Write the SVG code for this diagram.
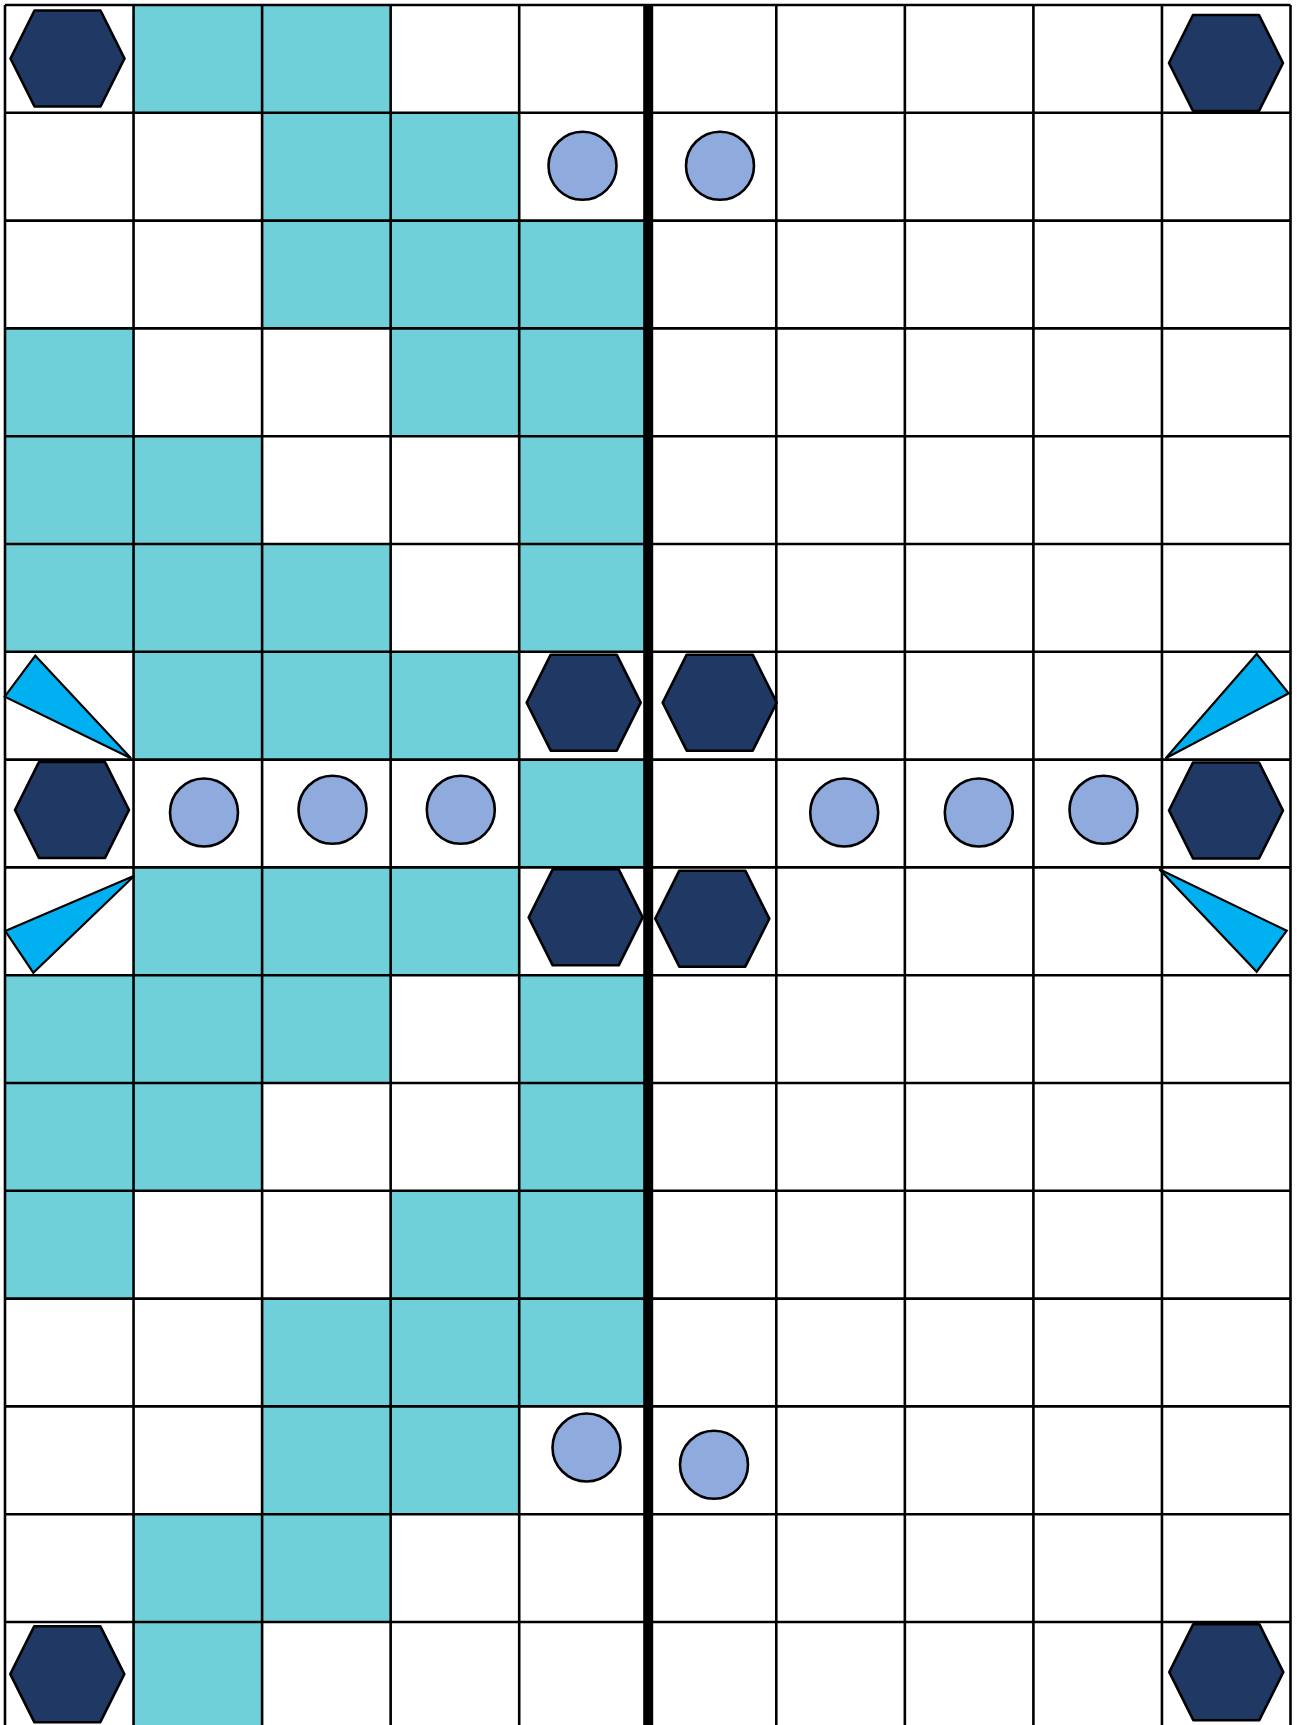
<svg xmlns="http://www.w3.org/2000/svg" xmlns:xlink="http://www.w3.org/1999/xlink" width="1297" height="1725" viewBox="0 0 1297 1725">
<style>
.teal{fill:#70D0D9;stroke:none}
.grid line{stroke:#000;stroke-width:2.6}
.hex{fill:#203864;stroke:#000;stroke-width:2.6;stroke-linejoin:round}
.dot{fill:#8FAADC;stroke:#000;stroke-width:2.6}
.tri{fill:#00B0F0;stroke:#000;stroke-width:2.2;stroke-linejoin:miter}
</style>
<defs>
<polygon id="hexshape" points="-57,0 -33,-48 33,-48 57,0 33,48 -33,48"/>
</defs>
<rect x="0" y="0" width="1297" height="1725" fill="#fff"/>
<g id="teal-cells">
<rect class="teal" x="133.55" y="5" width="128.55" height="107.8"/>
<rect class="teal" x="262.1" y="5" width="128.55" height="107.8"/>
<rect class="teal" x="262.1" y="112.8" width="128.55" height="107.8"/>
<rect class="teal" x="390.65" y="112.8" width="128.55" height="107.8"/>
<rect class="teal" x="262.1" y="220.6" width="128.55" height="107.8"/>
<rect class="teal" x="390.65" y="220.6" width="128.55" height="107.8"/>
<rect class="teal" x="519.2" y="220.6" width="128.55" height="107.8"/>
<rect class="teal" x="5" y="328.4" width="128.55" height="107.8"/>
<rect class="teal" x="390.65" y="328.4" width="128.55" height="107.8"/>
<rect class="teal" x="519.2" y="328.4" width="128.55" height="107.8"/>
<rect class="teal" x="5" y="436.2" width="128.55" height="107.8"/>
<rect class="teal" x="133.55" y="436.2" width="128.55" height="107.8"/>
<rect class="teal" x="519.2" y="436.2" width="128.55" height="107.8"/>
<rect class="teal" x="5" y="544" width="128.55" height="107.8"/>
<rect class="teal" x="133.55" y="544" width="128.55" height="107.8"/>
<rect class="teal" x="262.1" y="544" width="128.55" height="107.8"/>
<rect class="teal" x="519.2" y="544" width="128.55" height="107.8"/>
<rect class="teal" x="133.55" y="651.8" width="128.55" height="107.8"/>
<rect class="teal" x="262.1" y="651.8" width="128.55" height="107.8"/>
<rect class="teal" x="390.65" y="651.8" width="128.55" height="107.8"/>
<rect class="teal" x="519.2" y="759.6" width="128.55" height="107.8"/>
<rect class="teal" x="133.55" y="867.4" width="128.55" height="107.8"/>
<rect class="teal" x="262.1" y="867.4" width="128.55" height="107.8"/>
<rect class="teal" x="390.65" y="867.4" width="128.55" height="107.8"/>
<rect class="teal" x="5" y="975.2" width="128.55" height="107.8"/>
<rect class="teal" x="133.55" y="975.2" width="128.55" height="107.8"/>
<rect class="teal" x="262.1" y="975.2" width="128.55" height="107.8"/>
<rect class="teal" x="519.2" y="975.2" width="128.55" height="107.8"/>
<rect class="teal" x="5" y="1083" width="128.55" height="107.8"/>
<rect class="teal" x="133.55" y="1083" width="128.55" height="107.8"/>
<rect class="teal" x="519.2" y="1083" width="128.55" height="107.8"/>
<rect class="teal" x="5" y="1190.8" width="128.55" height="107.8"/>
<rect class="teal" x="390.65" y="1190.8" width="128.55" height="107.8"/>
<rect class="teal" x="519.2" y="1190.8" width="128.55" height="107.8"/>
<rect class="teal" x="262.1" y="1298.6" width="128.55" height="107.8"/>
<rect class="teal" x="390.65" y="1298.6" width="128.55" height="107.8"/>
<rect class="teal" x="519.2" y="1298.6" width="128.55" height="107.8"/>
<rect class="teal" x="262.1" y="1406.4" width="128.55" height="107.8"/>
<rect class="teal" x="390.65" y="1406.4" width="128.55" height="107.8"/>
<rect class="teal" x="133.55" y="1514.2" width="128.55" height="107.8"/>
<rect class="teal" x="262.1" y="1514.2" width="128.55" height="107.8"/>
<rect class="teal" x="133.55" y="1622" width="128.55" height="107.8"/>
</g>
<g id="grid" class="grid">
<line x1="5" y1="5" x2="5" y2="1725"/>
<line x1="133.55" y1="5" x2="133.55" y2="1725"/>
<line x1="262.1" y1="5" x2="262.1" y2="1725"/>
<line x1="390.65" y1="5" x2="390.65" y2="1725"/>
<line x1="519.2" y1="5" x2="519.2" y2="1725"/>
<line x1="776.3" y1="5" x2="776.3" y2="1725"/>
<line x1="904.85" y1="5" x2="904.85" y2="1725"/>
<line x1="1033.4" y1="5" x2="1033.4" y2="1725"/>
<line x1="1161.95" y1="5" x2="1161.95" y2="1725"/>
<line x1="1290.5" y1="5" x2="1290.5" y2="1725"/>
<line x1="5" y1="5" x2="1290.5" y2="5"/>
<line x1="5" y1="112.8" x2="1290.5" y2="112.8"/>
<line x1="5" y1="220.6" x2="1290.5" y2="220.6"/>
<line x1="5" y1="328.4" x2="1290.5" y2="328.4"/>
<line x1="5" y1="436.2" x2="1290.5" y2="436.2"/>
<line x1="5" y1="544" x2="1290.5" y2="544"/>
<line x1="5" y1="651.8" x2="1290.5" y2="651.8"/>
<line x1="5" y1="759.6" x2="1290.5" y2="759.6"/>
<line x1="5" y1="867.4" x2="1290.5" y2="867.4"/>
<line x1="5" y1="975.2" x2="1290.5" y2="975.2"/>
<line x1="5" y1="1083" x2="1290.5" y2="1083"/>
<line x1="5" y1="1190.8" x2="1290.5" y2="1190.8"/>
<line x1="5" y1="1298.6" x2="1290.5" y2="1298.6"/>
<line x1="5" y1="1406.4" x2="1290.5" y2="1406.4"/>
<line x1="5" y1="1514.2" x2="1290.5" y2="1514.2"/>
<line x1="5" y1="1622" x2="1290.5" y2="1622"/>
<line x1="648.2" y1="4" x2="648.2" y2="1725" style="stroke-width:10"/>
</g>
<g id="connectors"/>
<g id="hex-r0c0"><use xlink:href="#hexshape" class="hex" transform="translate(67.5,58.5)"/></g>
<g id="hex-r0c9"><use xlink:href="#hexshape" class="hex" transform="translate(1226,63)"/></g>
<g id="hex-r6c4"><use xlink:href="#hexshape" class="hex" transform="translate(583.7,702.7)"/></g>
<g id="hex-r6c5"><use xlink:href="#hexshape" class="hex" transform="translate(719.7,702.7)"/></g>
<g id="hex-r7c0"><use xlink:href="#hexshape" class="hex" transform="translate(72,810)"/></g>
<g id="hex-r7c9"><use xlink:href="#hexshape" class="hex" transform="translate(1226,810.5)"/></g>
<g id="hex-r8c4"><use xlink:href="#hexshape" class="hex" transform="translate(585.7,917.3)"/></g>
<g id="hex-r8c5"><use xlink:href="#hexshape" class="hex" transform="translate(712.3,918.7)"/></g>
<g id="hex-r15c0"><use xlink:href="#hexshape" class="hex" transform="translate(67.3,1674.2)"/></g>
<g id="hex-r15c9"><use xlink:href="#hexshape" class="hex" transform="translate(1226.3,1672.2)"/></g>
<g id="dot-r1c4"><circle class="dot" cx="582.5" cy="165.8" r="34"/></g>
<g id="dot-r1c5"><circle class="dot" cx="720" cy="165.8" r="34"/></g>
<g id="dot-r7c1"><circle class="dot" cx="204" cy="812.5" r="34"/></g>
<g id="dot-r7c2"><circle class="dot" cx="332.5" cy="809.8" r="34"/></g>
<g id="dot-r7c3"><circle class="dot" cx="460.8" cy="809.8" r="34"/></g>
<g id="dot-r7c6"><circle class="dot" cx="844.2" cy="812.5" r="34"/></g>
<g id="dot-r7c7"><circle class="dot" cx="978.8" cy="812.5" r="34"/></g>
<g id="dot-r7c8"><circle class="dot" cx="1103.5" cy="809.8" r="34"/></g>
<g id="dot-r13c4"><circle class="dot" cx="586.5" cy="1447.5" r="34"/></g>
<g id="dot-r13c5"><circle class="dot" cx="714" cy="1464.8" r="34"/></g>
<g id="tri-r6c0"><polygon class="tri" points="4.7,696.7 35.3,655.7 131,758.3"/></g>
<g id="tri-r8c0"><polygon class="tri" points="134.3,875.7 5.3,931 33.3,972.7"/></g>
<g id="tri-r6c9"><polygon class="tri" points="1256.7,654 1288.7,693.3 1165.7,758.3"/></g>
<g id="tri-r8c9"><polygon class="tri" points="1159.3,869.3 1286.7,930.7 1256.7,971.7"/></g>
</svg>
